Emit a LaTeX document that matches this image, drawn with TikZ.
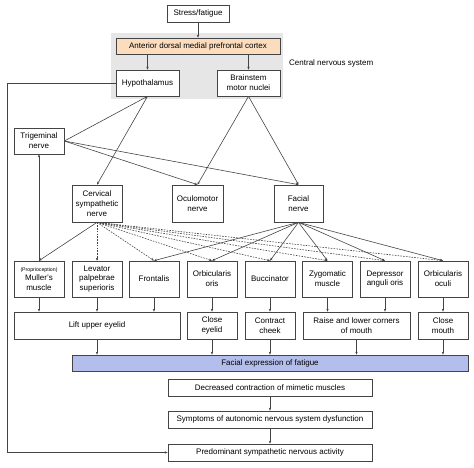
\documentclass[tikz,border=0pt]{standalone}
\usepackage{fontspec}
\setmainfont{Liberation Sans}
\usetikzlibrary{arrows.meta}
\definecolor{lc}{HTML}{444444}
\definecolor{peach}{HTML}{FBDDBE}
\definecolor{greybg}{HTML}{E6E6E6}
\definecolor{lav}{HTML}{B4BEEC}
\begin{document}
\begin{tikzpicture}[x=1pt,y=-1pt,
  box/.style={draw=lc, line width=0.7pt, fill=white, inner sep=0pt, align=center, font=\fontsize{8}{9.8}\selectfont},
  conn/.style={draw=lc, line width=0.6pt, -{Stealth[length=3pt,width=2.4pt]}},
  dotc/.style={conn, dash pattern=on 1.6pt off 1.2pt}]
\useasboundingbox (0,0) rectangle (474,467);
\fill[greybg] (111,33) rectangle (283,99);
\node[box, minimum width=62, minimum height=17] (stress) at (198,13.5) {Stress/fatigue};
\node[box, fill=peach, minimum width=164, minimum height=16] (pfc) at (198,46) {Anterior dorsal medial prefrontal cortex};
\node[box, minimum width=63, minimum height=26] (hypo) at (147.5,83) {Hypothalamus};
\node[box, minimum width=63, minimum height=26] (brain) at (248.5,83) {Brainstem\\motor nuclei};
\node[anchor=west, inner sep=0pt, font=\fontsize{8}{9.8}\selectfont] (cns) at (289,63) {Central nervous system};
\node[box, minimum width=50, minimum height=26] (trig) at (39,141) {Trigeminal\\nerve};
\node[box, minimum width=50, minimum height=37] (cerv) at (97,203.5) {Cervical\\sympathetic\\nerve};
\node[box, minimum width=51, minimum height=37] (ocul) at (197.5,203.5) {Oculomotor\\nerve};
\node[box, minimum width=49, minimum height=37] (facial) at (298.5,203.5) {Facial\\nerve};
\node[box, minimum width=50, minimum height=36] (mul) at (39,279) {{\fontsize{5.2}{6.5}\selectfont(Proprioception)}\\Muller's\\muscle};
\node[box, minimum width=50, minimum height=36] (lev) at (97,279) {Levator\\palpebrae\\superioris};
\node[box, minimum width=50, minimum height=36] (fro) at (154,279) {Frontalis};
\node[box, minimum width=50, minimum height=36] (oor) at (212,279) {Orbicularis\\oris};
\node[box, minimum width=50, minimum height=36] (buc) at (270,279) {Buccinator};
\node[box, minimum width=50, minimum height=36] (zyg) at (327.5,279) {Zygomatic\\muscle};
\node[box, minimum width=50, minimum height=36] (dep) at (385,279) {Depressor\\anguli oris};
\node[box, minimum width=50, minimum height=36] (ooc) at (443,279) {Orbicularis\\oculi};
\node[box, minimum width=166, minimum height=27] (lift) at (97,325.5) {Lift upper eyelid};
\node[box, minimum width=50, minimum height=27] (cey) at (212,325.5) {Close\\eyelid};
\node[box, minimum width=50, minimum height=27] (cch) at (270,325.5) {Contract\\cheek};
\node[box, minimum width=107, minimum height=27] (rai) at (356.5,325.5) {Raise and lower corners\\of mouth};
\node[box, minimum width=50, minimum height=27] (cmo) at (443,325.5) {Close\\mouth};
\node[box, fill=lav, minimum width=396, minimum height=16] (fexp) at (270,363) {Facial expression of fatigue};
\node[box, minimum width=204, minimum height=17] (decr) at (270,387.5) {Decreased contraction of mimetic muscles};
\node[box, minimum width=204, minimum height=17] (symp) at (270,419.5) {Symptoms of autonomic nervous system dysfunction};
\node[box, minimum width=204, minimum height=17] (pred) at (270,452.5) {Predominant sympathetic nervous activity};
\coordinate (lft) at (7,83);
% CNS
\draw[conn] (stress) -- (pfc);
\draw[conn] (pfc.south -| hypo.north) -- (hypo.north);
\draw[conn] (pfc.south -| brain.north) -- (brain.north);
\draw[conn] (hypo.west) -- (lft) |- (pred.west);
\draw[conn] (trig.east) -- (hypo.south);
\draw[conn] (hypo.south) -- (cerv.north);
\draw[conn] (trig.east) -- (ocul.north);
\draw[conn] (trig.east) -- (facial.north);
\draw[conn] (brain.south) -- (ocul.north);
\draw[conn] (brain.south) -- (facial.north);
\draw[conn] (mul.north) -- (trig.south);
% cervical
\draw[conn] (cerv.south) -- (mul.north);
\foreach \m in {lev,fro,oor,buc,zyg,dep,ooc} \draw[dotc] (cerv.south) -- (\m.north);
\foreach \m in {fro,oor,buc,zyg,dep,ooc} \draw[conn] (facial.south) -- (\m.north);
% muscles to actions
\foreach \m in {mul,lev,fro} \draw[conn] (\m.south) -- (\m.south |- lift.north);
\draw[conn] (oor) -- (cey);
\draw[conn] (buc) -- (cch);
\draw[conn] (zyg.south) -- (zyg.south |- rai.north);
\draw[conn] (dep.south) -- (dep.south |- rai.north);
\draw[conn] (ooc) -- (cmo);
\foreach \m in {lift,cey,cch,rai,cmo} \draw[conn] (\m.south) -- (\m.south |- fexp.north);
\draw[conn] (decr) -- (symp);
\draw[conn] (symp) -- (pred);
\end{tikzpicture}
\end{document}
